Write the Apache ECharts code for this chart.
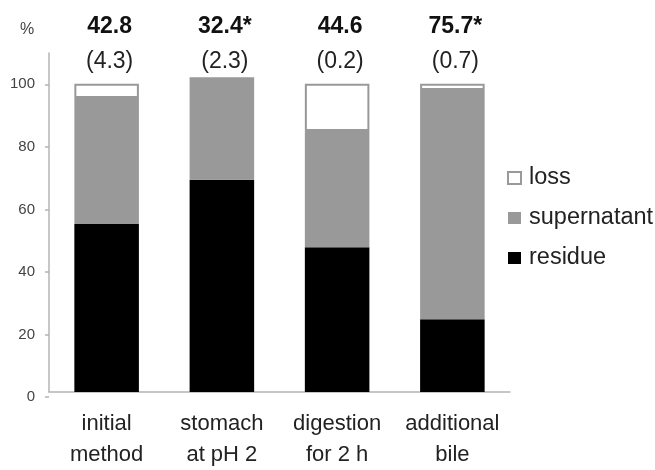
<!DOCTYPE html>
<html>
<head>
<meta charset="utf-8">
<script src="https://cdn.jsdelivr.net/npm/echarts@6/dist/echarts.min.js"></script>
<style>
    html, body { margin: 0; padding: 0; background: #fff; }
    #chart { width: 655px; height: 470px; }
</style>
</head>
<body>
<div id="chart"></div>
<script>
// stages of the digestion model
var stages = ['initial\nmethod', 'stomach\nat pH 2', 'digestion\nfor 2 h', 'additional\nbile'];
// values printed above the bars, and the numbers in brackets
var topValues = ['42.8', '32.4*', '44.6', '75.7*'];
var topSd = ['(4.3)', '(2.3)', '(0.2)', '(0.7)'];
// stacked percentages
var residue = [54.5, 68.9, 47.0, 23.6];
var supernatant = [40.9, 33.2, 37.7, 74.4];
var loss = [4.6, 0, 15.3, 2.0];

var axisGray = '#b4b4b4';
var font = '"Liberation Sans", Arial, sans-serif';
var lossStyle = { color: '#fff', borderColor: '#999999', borderWidth: 2 };
var supStyle = { color: '#999999' };
var resStyle = { color: '#000' };

var chart = echarts.init(document.getElementById('chart'));
chart.setOption({
    animation: false,
    textStyle: { fontFamily: font, color: '#222' },
    title: {
        text: '%', left: 15, top: 17,
        textStyle: { fontFamily: font, fontSize: 16, fontWeight: 'normal', color: '#444' }
    },
    legend: {
        orient: 'vertical',
        left: 507, top: 166, padding: 0,
        icon: 'rect',
        itemWidth: 13, itemHeight: 12, itemGap: 16,
        data: [
            { name: 'loss', itemStyle: lossStyle },
            { name: 'supernatant', itemStyle: supStyle },
            { name: 'residue', itemStyle: resStyle }
        ],
        textStyle: { fontFamily: font, fontSize: 23.5, color: '#222', padding: [0, 0, 0, 3] }
    },
    grid: [
        { left: 49, right: 145, top: 53, bottom: 73 },
        { left: 49, right: 145, top: 84.3, bottom: 73 }
    ],
    xAxis: [
        {
            gridIndex: 0, type: 'category', data: stages,
            axisLine: { lineStyle: { color: axisGray, width: 1.5 } },
            axisTick: { show: false },
            axisLabel: { interval: 0, hideOverlap: false, margin: 16, fontSize: 22, lineHeight: 31, color: '#222', fontFamily: font }
        },
        {
            gridIndex: 1, type: 'category', position: 'top', data: stages,
            axisLine: { show: false }, axisTick: { show: false },
            axisLabel: {
                interval: 0,
                margin: 11,
                padding: [0, 0, 0, 6],
                formatter: function (v, i) { return '{b|' + topValues[i] + '}\n{n|' + topSd[i] + '}'; },
                rich: {
                    b: { fontSize: 23, fontWeight: 'bold', lineHeight: 46, color: '#111', fontFamily: font },
                    n: { fontSize: 23, lineHeight: 24, color: '#222', fontFamily: font }
                }
            }
        }
    ],
    yAxis: [
        {
            gridIndex: 0, type: 'value', min: 0, max: 110,
            axisLine: { show: true, lineStyle: { color: axisGray, width: 1.5 } },
            axisTick: { show: false }, axisLabel: { show: false }, splitLine: { show: false }
        },
        {
            gridIndex: 1, type: 'value', min: 0, max: 100, interval: 20,
            axisLine: { show: false },
            axisTick: { show: true, length: 4, lineStyle: { color: axisGray, width: 1.5 } },
            axisLabel: { margin: 14, fontSize: 15, color: '#444', fontFamily: font },
            splitLine: { show: false }
        }
    ],
    series: [
        {
            name: 'residue', type: 'bar', stack: 'all', xAxisIndex: 0, yAxisIndex: 0,
            barWidth: '56%', data: residue, itemStyle: resStyle
        },
        {
            name: 'supernatant', type: 'bar', stack: 'all', xAxisIndex: 0, yAxisIndex: 0,
            barWidth: '56%', data: supernatant, itemStyle: supStyle
        },
        {
            name: 'loss', type: 'bar', stack: 'all', xAxisIndex: 0, yAxisIndex: 0,
            barWidth: '56%',
            data: loss.map(function (v) { return v > 0 ? v : '-'; }),
            itemStyle: lossStyle
        }
    ]
});
</script>
</body>
</html>
